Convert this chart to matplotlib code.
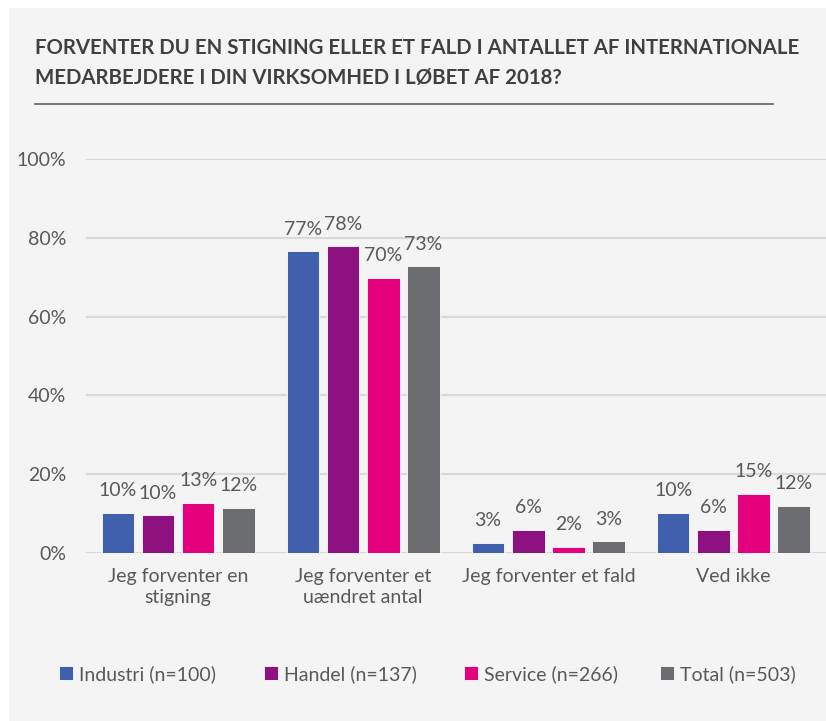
import matplotlib
matplotlib.use("Agg")
import matplotlib.pyplot as plt
from matplotlib.patches import Rectangle
import numpy as np

plt.rcParams['font.family'] = ['Lato', 'DejaVu Sans']

title = "FORVENTER DU EN STIGNING ELLER ET FALD I ANTALLET AF INTERNATIONALE\nMEDARBEJDERE I DIN VIRKSOMHED I LØBET AF 2018?"
categories = ["Jeg forventer en\nstigning", "Jeg forventer et\nuændret antal",
              "Jeg forventer et fald", "Ved ikke"]
series_names = ["Industri (n=100)", "Handel (n=137)", "Service (n=266)", "Total (n=503)"]
industri = [10.2, 76.6, 2.6, 10.2]
handel = [9.6, 77.8, 5.8, 5.8]
service = [12.7, 69.8, 1.6, 15.1]
total = [11.5, 72.8, 3.0, 11.9]
yticks = [0, 20, 40, 60, 80, 100]
colors = ["#4060AD", "#8E1181", "#E4007C", "#6C6D71"]

series = [industri, handel, service, total]

W, H = 826, 721
fig = plt.figure(figsize=(W / 100, H / 100), dpi=100)
fig.patch.set_facecolor("white")
fig.add_artist(Rectangle((9 / W, 0), 1 - 9 / W, 1 - 8 / H, transform=fig.transFigure,
                         facecolor="#F4F4F4", edgecolor="none", zorder=-10))

text_color = "#595959"
fs = 14

fig.text(35 / W, 1 - 63 / H, title, fontsize=14.7, fontweight="bold", color="#404040",
         va="center", ha="left", linespacing=1.6)
fig.add_artist(plt.Line2D([35 / W, 773 / W], [1 - 104 / H, 1 - 104 / H],
                          transform=fig.transFigure, color="#6b6b6b", lw=1.3))

ax_left = 85.5 / W
ax_bottom = 1 - 553 / H
ax_top = 1 - 159 / H
ax = fig.add_axes([ax_left, ax_bottom, 1 - ax_left, ax_top - ax_bottom])
ax.set_facecolor("none")

x = np.arange(len(categories))
pitch = 0.217
width = 0.176
containers = []
for i, (vals, col) in enumerate(zip(series, colors)):
    offs = (i - 1.5) * pitch
    bc = ax.bar(x + offs, vals, width, color=col, edgecolor="white", linewidth=0.6, zorder=3)
    containers.append(bc)
    for xi, v in zip(x + offs, vals):
        ax.annotate(f"{v:.0f}%", (xi, v), xytext=(0, 12), textcoords="offset points",
                    ha="center", va="baseline", fontsize=fs, color=text_color)

ax.set_xlim(-0.5, len(categories) - 0.5)
ax.set_ylim(0, 100)
ax.set_yticks(yticks)
ax.set_yticklabels([f"{t}%" for t in yticks])
ax.set_xticks(x)
ax.set_xticklabels(categories, linespacing=1.3)
ax.tick_params(axis="both", length=0, labelsize=fs, labelcolor=text_color)
ax.tick_params(axis="y", pad=14)
ax.tick_params(axis="x", pad=11)
ax.grid(axis="y", color="#D9D9D9", lw=1.5, zorder=0)
for s in ax.spines.values():
    s.set_visible(False)

leg_x = [59, 264, 464, 660]
for bc, name, lx in zip(containers, series_names, leg_x):
    fig.legend([bc], [name], loc="center left", bbox_to_anchor=(lx / W, 1 - 674 / H),
               frameon=False, handlelength=0.7, handleheight=0.7, handletextpad=0.35,
               borderpad=0, borderaxespad=0, fontsize=fs, labelcolor=text_color)

fig.savefig("out.png", dpi=100)
